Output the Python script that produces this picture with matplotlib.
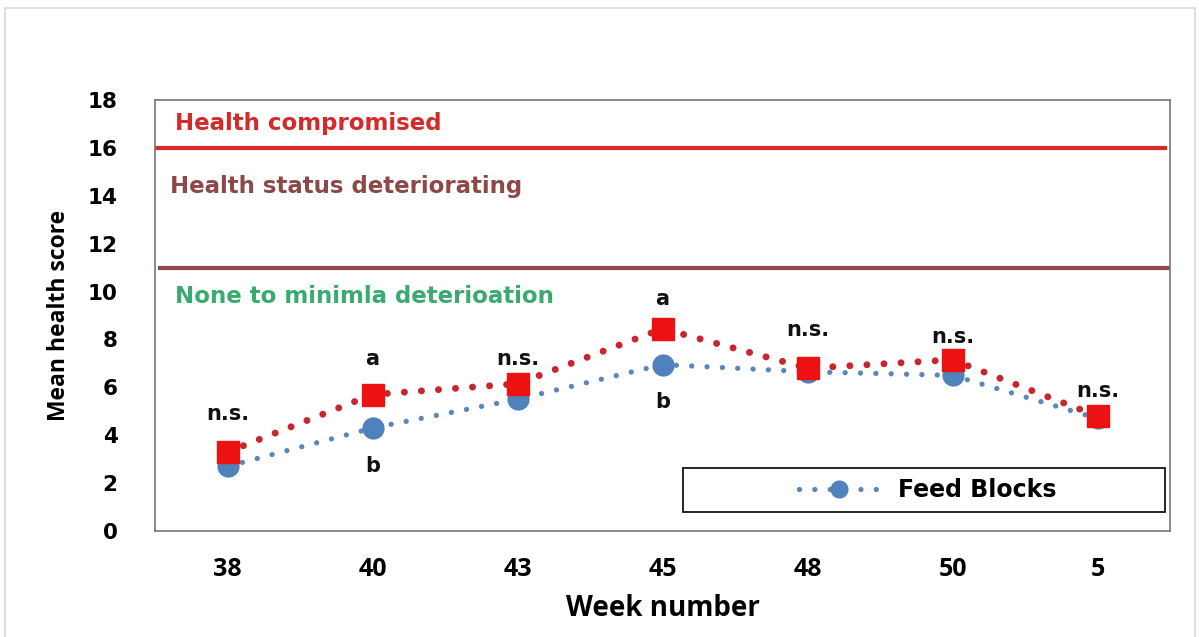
import numpy as np
import matplotlib.pyplot as plt
from matplotlib.patches import Rectangle

# data
weeks = ['38', '40', '43', '45', '48', '50', '5']
feed_blocks = [2.7, 4.3, 5.5, 6.95, 6.65, 6.5, 4.7]
other_group = [3.3, 5.7, 6.15, 8.45, 6.8, 7.15, 4.8]
thresholds = [16, 11]

# significance letters: (index, label, y)
sig_labels = [(0, 'n.s.', 4.9), (1, 'a', 7.2), (1, 'b', 2.7), (2, 'n.s.', 7.2),
              (3, 'a', 9.7), (3, 'b', 5.4), (4, 'n.s.', 8.4), (5, 'n.s.', 8.1),
              (6, 'n.s.', 5.85)]

x = np.arange(len(weeks))

fig = plt.figure(figsize=(11.99, 6.37), dpi=100)
ax = fig.add_axes([155/1199, 1 - 531/637, 1015/1199, 431/637])

# outer frame of the picture
fig.patches.append(Rectangle((5/1199, -0.05), 1190/1199, 1 - 8/637 + 0.05,
                             transform=fig.transFigure, fill=False,
                             edgecolor='#d9d9d9', linewidth=1.2))

ax.axhline(thresholds[0], color='#d42a2a', lw=3, xmin=0.0, xmax=0.995)
ax.axhline(thresholds[1], color='#8e4848', lw=3, xmin=0.005, xmax=1.0)

ax.plot(x, other_group, ls=(0, (0.01, 2.45)), dash_capstyle='round', lw=5,
        color='#c8252c', marker='s', ms=16, mfc='#ee1111', mec='#ee1111',
        zorder=4)
ax.plot(x, feed_blocks, ls=(0, (0.01, 2.9)), dash_capstyle='round', lw=3.8,
        color='#5b86bb', marker='o', ms=15, mfc='#4f81bd', mec='#4f81bd',
        label='Feed Blocks', zorder=3)

zone = dict(fontsize=16.5, fontweight='bold', family='DejaVu Sans', va='center')
ax.text(-0.36, 17.0, 'Health compromised', color='#d42a2a', **zone)
ax.text(-0.40, 14.4, 'Health status deteriorating', color='#8e4848', **zone)
ax.text(-0.36, 9.8, 'None to minimla deterioation', color='#3aaa6e', **zone)

for i, lab, yy in sig_labels:
    ax.text(x[i], yy, lab, ha='center', va='center', color='#111111',
            fontsize=15, fontweight='bold', family='DejaVu Sans')

ax.set_xlim(-0.5, 6.5)
ax.set_ylim(0, 18)
ax.set_yticks(range(0, 19, 2))
ax.set_xticks(x)
ax.set_xticklabels(weeks)
ax.tick_params(axis='y', length=0, pad=27)
ax.tick_params(axis='x', length=0, pad=19)
for lab in ax.get_yticklabels():
    lab.set_fontsize(15.5)
    lab.set_fontweight('bold')
for lab in ax.get_xticklabels():
    lab.set_fontsize(18)
    lab.set_fontweight('bold')
    lab.set_family('Open Sans')
for sp in ax.spines.values():
    sp.set_color('#777777')
    sp.set_linewidth(1.2)

ax.set_ylabel('Mean health score', fontsize=16.5, fontweight='bold',
              family='Open Sans', labelpad=12)
ax.set_xlabel('Week number', fontsize=20, fontweight='bold',
              family='Open Sans', labelpad=8)

# legend box
bx0, by0, bw, bh = 528/1015, 19/431, 482/1015, 44/431
ax.add_patch(Rectangle((bx0, by0), bw, bh, transform=ax.transAxes, fill=False,
                       edgecolor='black', linewidth=1.2, zorder=5))
leg = ax.legend(loc='center', bbox_to_anchor=(bx0 + bw / 2 + 0.004, by0 + bh / 2),
                frameon=False, prop={'weight': 'bold', 'size': 17},
                handlelength=3.4, markerscale=0.8, borderaxespad=0)

fig.savefig('out.png', dpi=100)
